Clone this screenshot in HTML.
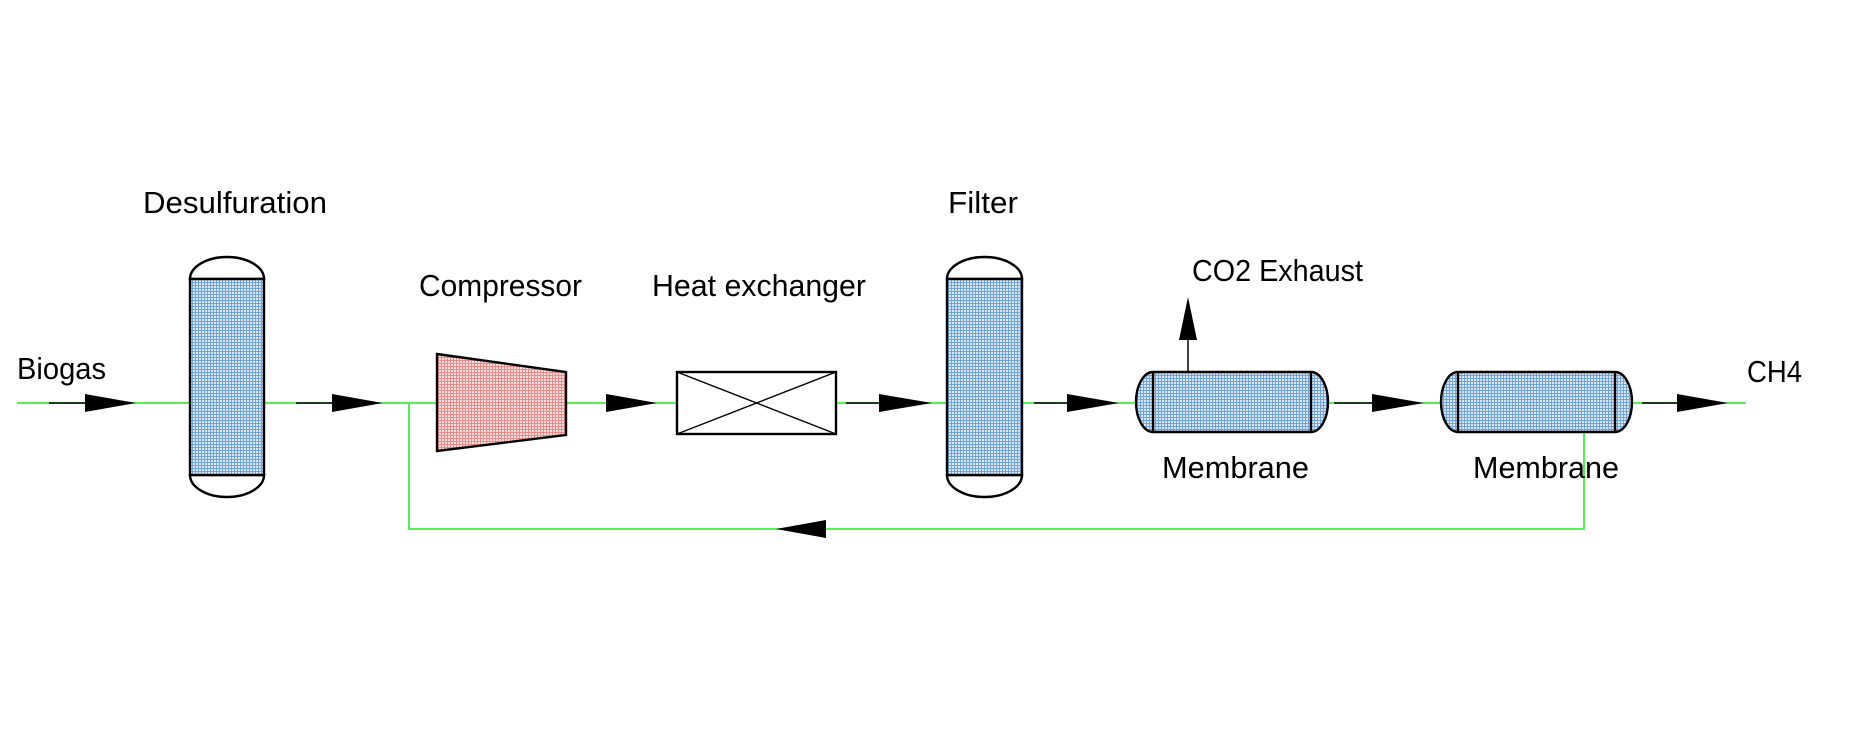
<!DOCTYPE html>
<html><head><meta charset="utf-8"><style>html,body{margin:0;padding:0;background:#fff}svg{display:block}</style></head>
<body>
<svg width="1863" height="742" viewBox="0 0 1863 742" xmlns="http://www.w3.org/2000/svg">
<defs>
<pattern id="bl" width="3" height="3" patternUnits="userSpaceOnUse">
<rect width="3" height="3" fill="#dbe8f8"/><path d="M0 0.5H3M0.5 0V3" stroke="#6fa3dc" stroke-width="1"/>
</pattern>
<pattern id="pk" width="3" height="3" patternUnits="userSpaceOnUse">
<rect width="3" height="3" fill="#fbe0e0"/><path d="M0 0.5H3M0.5 0V3" stroke="#ec8a8a" stroke-width="1"/>
</pattern>
</defs>
<g fill="none" stroke="#3cf03c" stroke-width="1.8">
<path d="M17 403H190M264 403H437M566 403H677M836 403H947M1022 403H1136M1328 403H1440M1632 403H1746"/>
<path d="M409 403V529H1584V432"/>
</g>
<g stroke="#000" stroke-width="1.5">
<path d="M49 403H90M296 403H336M606 403H612M846 403H884M1034 403H1072M1334 403H1376M1642 403H1680"/>
<path d="M1188 372V335"/>
</g>
<g fill="#000">
<path d="M85 394L136 403L85 412Z"/>
<path d="M332 394L383 403L332 412Z"/>
<path d="M606 394L657 403L606 412Z"/>
<path d="M879 394L932 403L879 412Z"/>
<path d="M1067 394L1119 403L1067 412Z"/>
<path d="M1372 394L1424 403L1372 412Z"/>
<path d="M1677 394L1728 403L1677 412Z"/>
<path d="M826 520L776 529L826 538Z"/>
<path d="M1179 340L1188 297L1197 340Z"/>
</g>
<g stroke="#000" stroke-width="2.4">
<path d="M190 279A37 22 0 0 1 264 279Z" fill="#fff"/>
<path d="M190 475A37 22 0 0 0 264 475Z" fill="#fff"/>
<rect x="190" y="279" width="74" height="196" fill="url(#bl)"/>
<path d="M947 279A37.5 22 0 0 1 1022 279Z" fill="#fff"/>
<path d="M947 475A37.5 22 0 0 0 1022 475Z" fill="#fff"/>
<rect x="947" y="279" width="75" height="196" fill="url(#bl)"/>
<path d="M437 354L566 372L566 435L437 451Z" fill="url(#pk)"/>
<rect x="677" y="372" width="159" height="62" fill="#fff"/>
<path d="M677 372L836 434M677 434L836 372" stroke-width="1.4"/>
<path d="M1153 372H1311A17 30 0 0 1 1311 432H1153A17 30 0 0 1 1153 372Z" fill="url(#bl)"/>
<path d="M1153 372V432M1311 372V432"/>
<path d="M1458 372H1615A17 30 0 0 1 1615 432H1458A17 30 0 0 1 1458 372Z" fill="url(#bl)"/>
<path d="M1458 372V432M1615 372V432"/>
</g>
<g font-family="Liberation Sans, sans-serif" font-size="31" fill="#000">
<text x="143" y="213" textLength="184" lengthAdjust="spacingAndGlyphs">Desulfuration</text>
<text x="17" y="379" textLength="89" lengthAdjust="spacingAndGlyphs">Biogas</text>
<text x="419" y="296" textLength="163" lengthAdjust="spacingAndGlyphs">Compressor</text>
<text x="652" y="296" textLength="214" lengthAdjust="spacingAndGlyphs">Heat exchanger</text>
<text x="948" y="213" textLength="70" lengthAdjust="spacingAndGlyphs">Filter</text>
<text x="1192" y="281" textLength="171" lengthAdjust="spacingAndGlyphs">CO2 Exhaust</text>
<text x="1162" y="478" textLength="147" lengthAdjust="spacingAndGlyphs">Membrane</text>
<text x="1473" y="478" textLength="146" lengthAdjust="spacingAndGlyphs">Membrane</text>
<text x="1747" y="382" textLength="55" lengthAdjust="spacingAndGlyphs">CH4</text>
</g>
</svg>
</body></html>
